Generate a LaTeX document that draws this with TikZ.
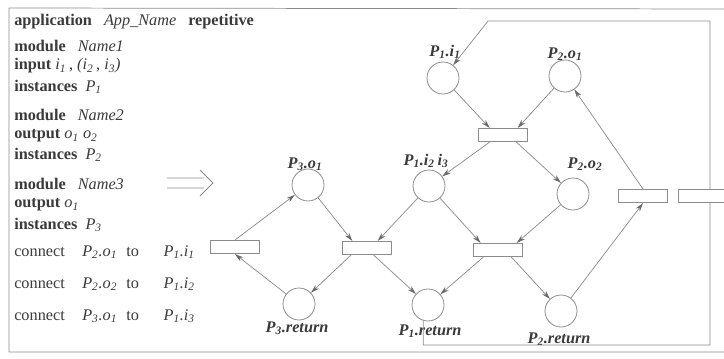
\documentclass[tikz,border=0pt]{standalone}
\usepackage{fontspec}
\setmainfont{Liberation Serif}
\usetikzlibrary{arrows.meta}
\definecolor{ln}{HTML}{8C8C8C}
\definecolor{tip}{HTML}{6A6A6A}
\definecolor{tx}{HTML}{3A3A3A}
\newcommand\kw[1]{\textbf{#1}}
\newcommand\nm[1]{\textit{#1}}
\newcommand\sbs[1]{\textsubscript{\itshape #1}}
\tikzset{
 place/.style={circle,draw=ln,line width=0.6pt,minimum size=24pt,inner sep=0pt,fill=white},
 trans/.style={rectangle,draw=ln,line width=0.6pt,minimum width=37pt,minimum height=10pt,inner sep=0pt,fill=white},
 arc/.style={draw=ln,line width=0.55pt,-{Stealth[length=6.5pt,width=3.8pt,color=tip]}},
 plain/.style={draw=ln,line width=0.55pt},
 txt/.style={anchor=west,inner sep=0pt,text=tx,font=\fontsize{12.2}{14}\selectfont},
 lab/.style={inner sep=0pt,text=tx,font=\fontsize{12.2}{14}\selectfont\bfseries\itshape},
}
\begin{document}
\begin{tikzpicture}[x=0.75pt,y=-0.75pt]
\path[use as bounding box] (0,0) rectangle (724,358);
\clip (0,0) rectangle (724,358);
% outer frame
\draw[plain] (740,9) -- (9,8) -- (9,352) -- (740,352);

% left text
\node[txt] (l1) at (14,22) {\kw{application}\hspace{9pt}\nm{App\_Name}\hspace{9pt}\kw{repetitive}};
\node[txt] (l2) at (14,46) {\kw{module}\hspace{9pt}\nm{Name1}};
\node[txt] (l3) at (14,66) {\kw{input} \nm{i}\sbs{1}\,, \nm{(i}\sbs{2}\,, \nm{i}\sbs{3}\nm{)}};
\node[txt] (l4) at (14,87) {\kw{instances}\hspace{6pt}\nm{P}\sbs{1}};
\node[txt] (l5) at (14,115) {\kw{module}\hspace{9pt}\nm{Name2}};
\node[txt] (l6) at (14,136) {\kw{output} \nm{o}\sbs{1} \nm{o}\sbs{2}};
\node[txt] (l7) at (14,155) {\kw{instances}\hspace{6pt}\nm{P}\sbs{2}};
\node[txt] (l8) at (14,184) {\kw{module}\hspace{9pt}\nm{Name3}};
\node[txt] (l9) at (14,205) {\kw{output} \nm{o}\sbs{1}};
\node[txt] (l10) at (14,225) {\kw{instances}\hspace{6pt}\nm{P}\sbs{3}};
\node[txt] (c1) at (14,252) {\makebox[51pt][l]{connect}\makebox[33pt][l]{\nm{P}\sbs{2}\nm{.o}\sbs{1}}\makebox[28pt][l]{to}\nm{P}\sbs{1}\nm{.i}\sbs{1}};
\node[txt] (c2) at (14,284) {\makebox[51pt][l]{connect}\makebox[33pt][l]{\nm{P}\sbs{2}\nm{.o}\sbs{2}}\makebox[28pt][l]{to}\nm{P}\sbs{1}\nm{.i}\sbs{2}};
\node[txt] (c3) at (14,316) {\makebox[51pt][l]{connect}\makebox[33pt][l]{\nm{P}\sbs{3}\nm{.o}\sbs{1}}\makebox[28pt][l]{to}\nm{P}\sbs{1}\nm{.i}\sbs{3}};

% big double arrow
\draw[plain,line width=0.6pt] (167,178) -- (204,178) (167,188) -- (204,188)
  (200,170) -- (213,183) -- (200,196);

% transitions
\node[trans] (tL) at (235,247) {};
\node[trans] (tM1) at (367,248) {};
\node[trans] (tM2) at (498,250) {};
\node[trans] (tT) at (503,135) {};
\node[trans] (tR) at (643,196) {};

% places
\node[place] (P3o1) at (308,185) {};
\node[place] (P3r) at (299,304) {};
\node[place] (P1i23) at (429,186) {};
\node[place] (P1r) at (428,305) {};
\node[place] (P1i1) at (443,78) {};
\node[place] (P2o1) at (565,76) {};
\node[place] (P2o2) at (573,194) {};
\node[place] (P2r) at (561,311) {};

% labels
\node[lab] (LP3o1) at (305,164) {P\sbs{3}.o\sbs{1}};
\node[lab] (LP3r) at (297,328) {P\sbs{3}.return};
\node[lab] (LP1i23) at (426,161) {P\sbs{1}.i\sbs{2}\,i\sbs{3}};
\node[lab] (LP1r) at (430,331) {P\sbs{1}.return};
\node[lab] (LP1i1) at (445,52) {P\sbs{1}.i\sbs{1}};
\node[lab] (LP2o1) at (565,54) {P\sbs{2}.o\sbs{1}};
\node[lab] (LP2o2) at (585,164) {P\sbs{2}.o\sbs{2}};
\node[lab] (LP2r) at (559,339) {P\sbs{2}.return};

% arcs
\draw[arc] (tL.north) -- (P3o1);
\draw[arc] (P3r) -- (tL.south);
\draw[arc] (P3o1) -- ([xshift=-11pt]tM1.north);
\draw[arc] (P1i23) -- ([xshift=8pt]tM1.north);
\draw[arc] ([xshift=-12pt]tM1.south) -- (P3r);
\draw[arc] ([xshift=5pt]tM1.south) -- (P1r);
\draw[arc] (P1i23) -- ([xshift=-13pt]tM2.north);
\draw[arc] (P2o2) -- ([xshift=14pt]tM2.north);
\draw[arc] ([xshift=-11pt]tM2.south) -- (P1r);
\draw[arc] ([xshift=10pt]tM2.south) -- (P2r);
\draw[arc] (P1i1) -- ([xshift=-10pt]tT.north);
\draw[arc] (P2o1) -- ([xshift=11pt]tT.north);
\draw[arc] ([xshift=-10pt]tT.south) -- (P1i23);
\draw[arc] ([xshift=10pt]tT.south) -- (P2o2);
\draw[arc] (P2r) -- (tR.south);
\draw[arc] (tR.north) -- (P2o1);

% feedback loop
\coordinate (fb1) at (710,345);
\coordinate (fb2) at (710,21);
\coordinate (fb3) at (488,21);
\draw[arc] (P1r.-107) |- (fb1) -- (fb2) -- (fb3) -- (P1i1);
\node[trans] (tR2) at (703,196) {};
\end{tikzpicture}
\end{document}
